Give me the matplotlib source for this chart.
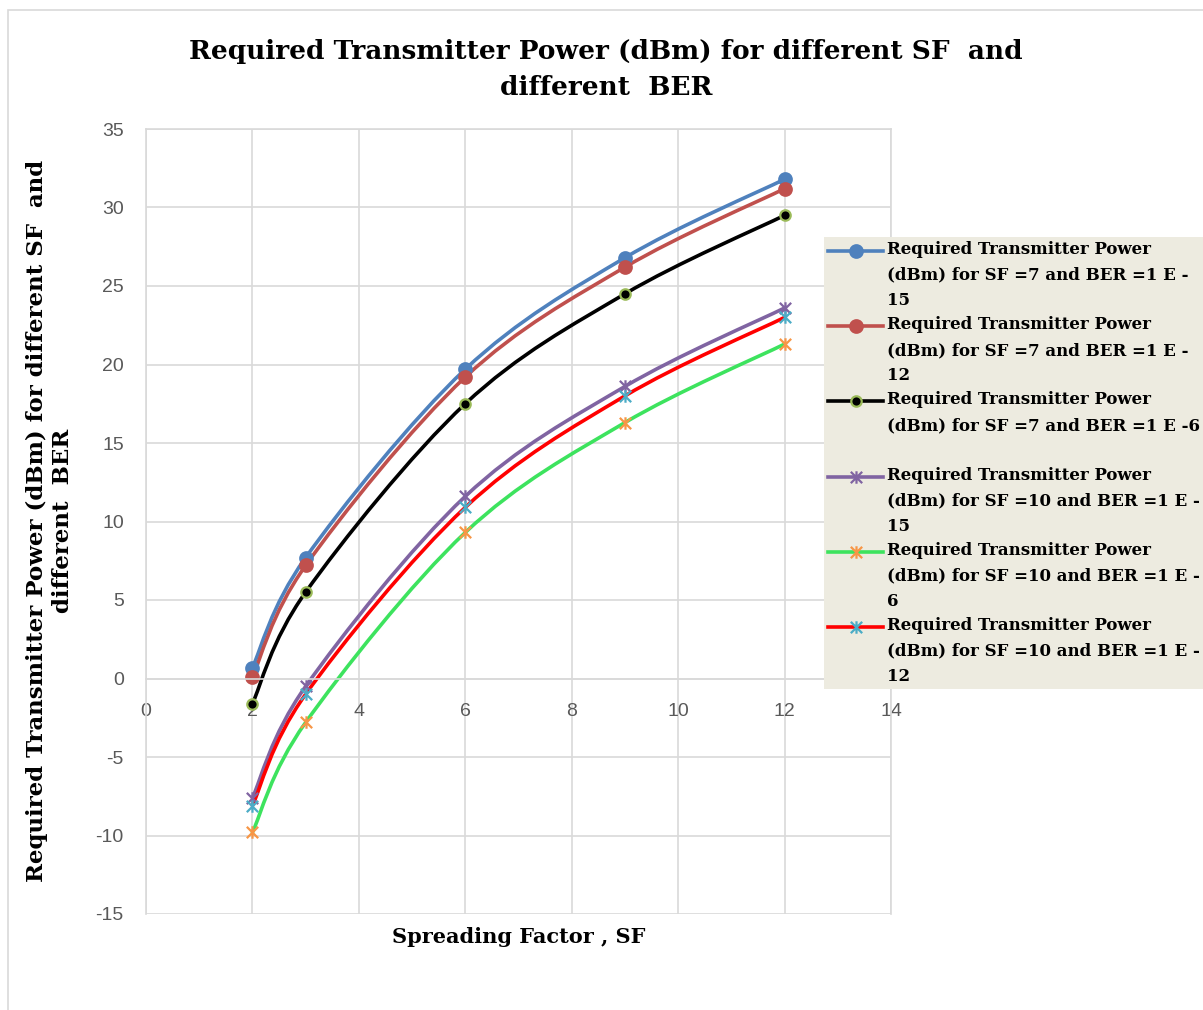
import matplotlib
matplotlib.use("Agg")
import matplotlib.pyplot as plt
from matplotlib.path import Path
from matplotlib.patches import PathPatch, Rectangle
from matplotlib.lines import Line2D
from matplotlib.legend_handler import HandlerLine2D

plt.rcParams["axes.unicode_minus"] = False

# spreading factor values on the x axis
sf = [2, 3, 6, 9, 12]

# required transmitter power (dBm) per curve
p_sf7_ber15 = [0.7, 7.7, 19.7, 26.8, 31.8]
p_sf7_ber12 = [0.1, 7.2, 19.2, 26.2, 31.2]
p_sf7_ber6 = [-1.6, 5.5, 17.5, 24.5, 29.5]
p_sf10_ber15 = [-7.6, -0.5, 11.6, 18.6, 23.6]
p_sf10_ber6 = [-9.8, -2.8, 9.3, 16.3, 21.3]
p_sf10_ber12 = [-8.1, -1.0, 10.9, 18.0, 23.0]

labels = [
    "Required Transmitter Power\n(dBm) for SF =7 and BER =1 E -\n15",
    "Required Transmitter Power\n(dBm) for SF =7 and BER =1 E -\n12",
    "Required Transmitter Power\n(dBm) for SF =7 and BER =1 E -6\n ",
    "Required Transmitter Power\n(dBm) for SF =10 and BER =1 E -\n15",
    "Required Transmitter Power\n(dBm) for SF =10 and BER =1 E -\n6",
    "Required Transmitter Power\n(dBm) for SF =10 and BER =1 E -\n12",
]

# asterisk marker like Excel's "star": an x with a vertical bar
STAR = Path([(-1, -1), (1, 1), (-1, 1), (1, -1), (0, -1.1), (0, 1.1)],
            [Path.MOVETO, Path.LINETO] * 3)

# (values, line colour, marker, face, edge, size)
series = [
    (p_sf7_ber15, "#4F81BD", "o", "#4F81BD", "#4F81BD", 9),
    (p_sf7_ber12, "#C0504D", "o", "#C0504D", "#C0504D", 9),
    (p_sf7_ber6, "#000000", "o", "#000000", "#9BBB59", 7.5),
    (p_sf10_ber15, "#8064A2", STAR, "none", "#8064A2", 9),
    (p_sf10_ber6, "#3DE35E", STAR, "none", "#F79646", 9),
    (p_sf10_ber12, "#FF0000", STAR, "none", "#4BACC6", 9),
]


def smooth_path(xs, ys):
    """Bezier path through the points, Excel-style smoothing."""
    pts = list(zip(xs, ys))
    n = len(pts)
    verts = [pts[0]]
    codes = [Path.MOVETO]
    for i in range(n - 1):
        p0 = pts[max(i - 1, 0)]
        p1 = pts[i]
        p2 = pts[i + 1]
        p3 = pts[min(i + 2, n - 1)]
        c1 = (p1[0] + (p2[0] - p0[0]) / 6, p1[1] + (p2[1] - p0[1]) / 6)
        c2 = (p2[0] - (p3[0] - p1[0]) / 6, p2[1] - (p3[1] - p1[1]) / 6)
        verts += [c1, c2, p2]
        codes += [Path.CURVE4] * 3
    return Path(verts, codes)


class FirstLineHandler(HandlerLine2D):
    """Legend handle put level with the first text line, as Excel does."""

    def __init__(self, dy, **kw):
        super().__init__(**kw)
        self.dy = dy

    def create_artists(self, legend, orig_handle, xdescent, ydescent, width,
                       height, fontsize, trans):
        arts = super().create_artists(legend, orig_handle, xdescent, ydescent,
                                      width, height, fontsize, trans)
        for a in arts:
            a.set_ydata([y + self.dy for y in a.get_ydata()])
        return arts


fig = plt.figure(figsize=(12.03, 10.10), dpi=100)
ax = fig.add_axes([146 / 1203, 1 - 914 / 1010, 745 / 1203, 785 / 1010])

handles = []
for vals, lc, mk, mf, me, ms in series:
    ax.add_patch(PathPatch(smooth_path(sf, vals), fill=False, ec=lc, lw=2.6,
                           capstyle="round", joinstyle="round"))
    ax.plot(sf, vals, ls="none", marker=mk, ms=ms, mfc=mf, mec=me, mew=1.6)
    handles.append(Line2D([], [], color=lc, lw=2.6, marker=mk, ms=ms,
                          mfc=mf, mec=me, mew=1.6))

ax.set_xlim(0, 14)
ax.set_ylim(-15, 35)
ax.set_xticks(range(0, 15, 2))
ax.set_yticks(range(-15, 36, 5))
ax.grid(True, color="#D9D9D9", lw=1.2)
ax.set_axisbelow(True)
for side in ["top", "right", "left", "bottom"]:
    ax.spines[side].set_color("#D9D9D9")
    ax.spines[side].set_linewidth(1.2)
ax.spines["bottom"].set_position(("data", 0))
ax.tick_params(length=0, labelsize=14, labelcolor="#595959")
ax.tick_params(axis="x", pad=18)
ax.tick_params(axis="y", pad=16)
for t in ax.get_xticklabels() + ax.get_yticklabels():
    t.set_fontfamily("Liberation Sans")

serif = "DejaVu Serif"
fig.text(0.504, 1 - 69 / 1010,
         "Required Transmitter Power (dBm) for different SF  and\ndifferent  BER",
         ha="center", va="center", fontsize=19, fontweight="bold", family=serif,
         linespacing=1.55)
fig.text(519 / 1203, 1 - 937 / 1010, "Spreading Factor , SF", ha="center", va="center",
         fontsize=15, fontweight="bold", family=serif)
fig.text(50 / 1203, 1 - 521 / 1010,
         "Required Transmitter Power (dBm) for different SF  and\ndifferent  BER",
         ha="center", va="center", rotation=90, fontsize=16.5, fontweight="bold",
         family=serif, linespacing=1.25)

leg = fig.legend(handles, labels, loc="upper left",
                 bbox_to_anchor=(824 / 1203, 1 - 237 / 1010),
                 bbox_transform=fig.transFigure, borderaxespad=0,
                 prop={"family": serif, "weight": "bold", "size": 12},
                 frameon=True, fancybox=False, facecolor="#EDEBE0",
                 edgecolor="none", framealpha=1, handlelength=3.3,
                 handletextpad=0.25, labelspacing=0.42, borderpad=0.25,
                 handler_map={Line2D: FirstLineHandler(dy=17.9)})
for t in leg.get_texts():
    t.set_linespacing(1.66)

# outer chart border
fig.add_artist(Rectangle((8 / 1203, -0.1), 1.2, 1.1 - 10 / 1010, transform=fig.transFigure,
                         fill=False, ec="#D9D9D9", lw=1.2))

fig.savefig("out.png", dpi=100)
